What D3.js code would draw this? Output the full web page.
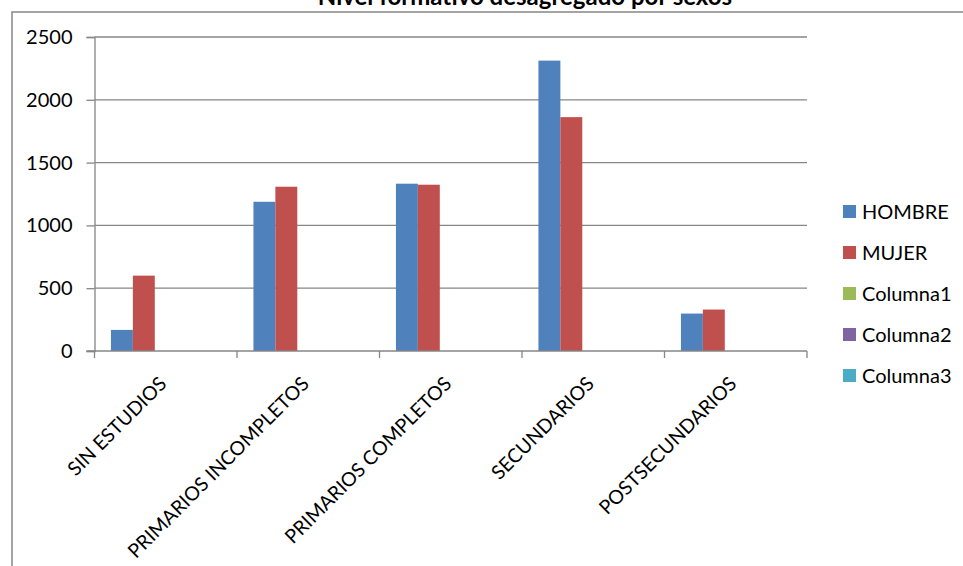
<!DOCTYPE html>
<html>
<head>
<meta charset="utf-8">
<script src="https://cdn.jsdelivr.net/npm/d3@7"></script>
<style>
  body { margin: 0; background: #fff; }
  svg { display: block; font-family: Lato, "Open Sans", sans-serif; }
</style>
</head>
<body>
<div id="chart"></div>
<script>
const categories = ['SIN ESTUDIOS', 'PRIMARIOS INCOMPLETOS', 'PRIMARIOS COMPLETOS', 'SECUNDARIOS', 'POSTSECUNDARIOS'];
const seriesNames = ['HOMBRE', 'MUJER', 'Columna1', 'Columna2', 'Columna3'];
const hombre = [168, 1188, 1332, 2312, 298];
const mujer = [600, 1308, 1324, 1862, 330];
const columna1 = [null, null, null, null, null];
const columna2 = [null, null, null, null, null];
const columna3 = [null, null, null, null, null];
const yTicks = [0, 500, 1000, 1500, 2000, 2500];

const colors = ['#4F81BD', '#C0504D', '#9BBB59', '#8064A2', '#4BACC6'];
const seriesValues = [hombre, mujer, columna1, columna2, columna3];

const width = 963, height = 566;
const plot = { left: 94.5, right: 807, top: 37, bottom: 351 };
const gridColor = '#868686';
const labelSize = '20px';

const svg = d3.select('#chart').append('svg')
  .attr('width', width)
  .attr('height', height);

// outer chart frame (runs off the right and bottom edges)
svg.append('rect')
  .attr('x', 12).attr('y', 12)
  .attr('width', 1000).attr('height', 600)
  .attr('fill', '#fff')
  .attr('stroke', gridColor)
  .attr('stroke-width', 1.5);

// title, mostly cut off at the top as in the original
svg.append('text')
  .attr('x', 525).attr('y', 5)
  .attr('text-anchor', 'middle')
  .style('font-weight', 'bold')
  .style('font-size', '24px')
  .text('Nivel formativo desagregado por sexos');

const x = d3.scaleBand()
  .domain(categories)
  .range([plot.left, plot.right]);

const xInner = d3.scaleBand()
  .domain(seriesNames)
  .range([0, x.bandwidth()])
  .paddingInner(0)
  .paddingOuter(0.75);

const y = d3.scaleLinear()
  .domain([0, 2500])
  .range([plot.bottom, plot.top]);

// y axis with tick marks
const yAxis = svg.append('g')
  .attr('transform', `translate(${plot.left},0)`)
  .call(d3.axisLeft(y).tickValues(yTicks).tickFormat(d3.format('d')).tickSize(8).tickPadding(14));
yAxis.select('.domain').attr('stroke', gridColor).attr('stroke-width', 1.3);
yAxis.selectAll('.tick line').attr('stroke', gridColor).attr('stroke-width', 1.3);
yAxis.selectAll('.tick text')
  .attr('fill', '#000')
  .style('font-size', labelSize)
  .style('font-family', 'Lato, sans-serif');

// horizontal gridlines
svg.append('g')
  .selectAll('line')
  .data(yTicks.filter(d => d > 0))
  .enter()
  .append('line')
  .attr('x1', plot.left).attr('x2', plot.right)
  .attr('y1', d => y(d)).attr('y2', d => y(d))
  .attr('stroke', gridColor)
  .attr('stroke-width', 1.3);

// bars
seriesNames.forEach((name, s) => {
  svg.append('g')
    .selectAll('rect')
    .data(seriesValues[s].map((v, i) => ({ cat: categories[i], v })).filter(d => d.v != null))
    .enter()
    .append('rect')
    .attr('x', d => x(d.cat) + xInner(name))
    .attr('y', d => y(d.v))
    .attr('width', xInner.bandwidth())
    .attr('height', d => y(0) - y(d.v))
    .attr('fill', colors[s]);
});

// x axis line with ticks at category boundaries
svg.append('line')
  .attr('x1', plot.left - 8).attr('x2', plot.right)
  .attr('y1', plot.bottom).attr('y2', plot.bottom)
  .attr('stroke', gridColor)
  .attr('stroke-width', 1.3);

const boundaries = categories.map(c => x(c)).concat([plot.right]);
svg.append('g')
  .selectAll('line')
  .data(boundaries)
  .enter()
  .append('line')
  .attr('x1', d => d).attr('x2', d => d)
  .attr('y1', plot.bottom).attr('y2', plot.bottom + 7)
  .attr('stroke', gridColor)
  .attr('stroke-width', 1.3);

// rotated category labels
svg.append('g')
  .selectAll('text')
  .data(categories)
  .enter()
  .append('text')
  .attr('transform', d => `translate(${x(d) + x.bandwidth() / 2 + 2},${plot.bottom + 34}) rotate(-45)`)
  .attr('text-anchor', 'end')
  .style('font-size', '19.5px')
  .text(d => d);

// legend
const legend = svg.append('g')
  .selectAll('g')
  .data(seriesNames)
  .enter()
  .append('g')
  .attr('transform', (d, i) => `translate(843,${205 + i * 41})`);

legend.append('rect')
  .attr('width', 13).attr('height', 13)
  .attr('fill', (d, i) => colors[i]);

legend.append('text')
  .attr('x', 19).attr('y', 13.5)
  .style('font-size', labelSize)
  .text(d => d);
</script>
</body>
</html>
